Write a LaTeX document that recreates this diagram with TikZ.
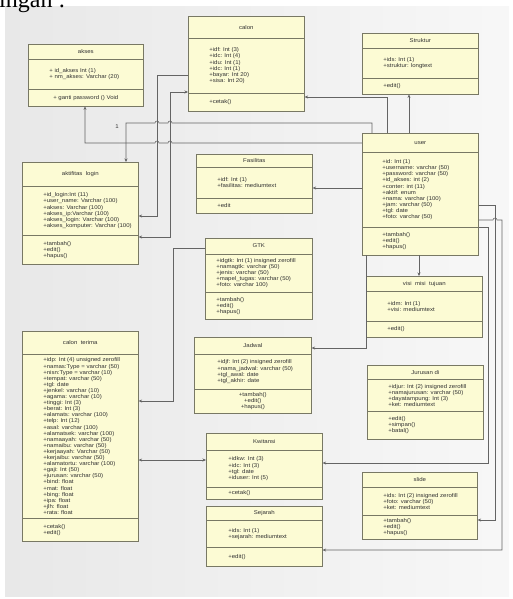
\documentclass[tikz,border=0pt]{standalone}
\usepackage{fontspec}
\setmainfont{Liberation Serif}
\newfontfamily\umlsans[FakeStretch=1.1]{Liberation Sans}
\usetikzlibrary{shapes.multipart,arrows.meta}

\definecolor{boxfill}{RGB}{252,251,212}
\definecolor{boxline}{RGB}{120,120,100}
\definecolor{wire}{RGB}{100,100,100}
\definecolor{txt}{RGB}{50,50,50}

\newcommand{\umlfont}{\umlsans\fontsize{5.5pt}{6.1pt}\selectfont\color{txt}}
% title part: width, height, text
\newcommand{\ptitle}[3]{\parbox[c][#2][c]{#1}{\umlfont\centering #3}}
% list part: width, height, indent, lines
\newcommand{\plist}[4]{\parbox[c][#2][c]{#1}{\umlfont\raggedright\leftskip=#3\relax #4}}

\tikzset{
  cls/.style={rectangle split, rectangle split parts=3, draw=boxline, fill=boxfill,
    inner sep=0pt, line width=0.6pt, anchor=north west},
  wire/.style={draw=wire, line width=0.55pt},
  >={Stealth[length=3.5pt,width=3pt]},
}

\begin{document}
\begin{tikzpicture}[x=1pt,y=-1pt]
  \useasboundingbox (0,0) rectangle (513,599);
  \shade[left color=black!9, right color=black!3] (5,7) rectangle (509,596);
  \node[anchor=base west, inner sep=0pt, font=\fontsize{24pt}{24pt}\selectfont] (hdr) at (-1,8) {ingan :};

  % classes
  \node[cls] (akses) at (28,44) {\ptitle{115pt}{14pt}{akses}
    \nodepart{two}\plist{115pt}{30pt}{21pt}{+ id\_akses Int (1)\\+ nm\_akses: Varchar (20)}
    \nodepart{three}\ptitle{115pt}{16pt}{+ ganti password () Void}};
  \node[cls] (calon) at (188,16) {\ptitle{116pt}{21pt}{calon}
    \nodepart{two}\plist{116pt}{55pt}{21pt}{+idf: Int (3)\\+idc: Int (4)\\+idu: Int (1)\\+idc: Int (1)\\+bayar: Int 20)\\+sisa: Int 20)}
    \nodepart{three}\plist{116pt}{17pt}{21pt}{+cetak()}};
  \node[cls] (struktur) at (362,33) {\ptitle{116pt}{14pt}{Struktur}
    \nodepart{two}\plist{116pt}{30pt}{21pt}{+ids: Int (1)\\+struktur: longtext}
    \nodepart{three}\plist{116pt}{15pt}{21pt}{+edit()}};
  \node[cls] (user) at (362,133) {\ptitle{116pt}{18pt}{user}
    \nodepart{two}\plist{116pt}{75pt}{20pt}{+id: Int (1)\\+username: varchar (50)\\+password: varchar (50)\\+id\_akses: int (2)\\+conter: int (11)\\+aktif: enum\\+nama: varchar (100)\\+jam: varchar (50)\\+tgl: date\\+foto: varchar (50)}
    \nodepart{three}\plist{116pt}{27pt}{20pt}{+tambah()\\+edit()\\+hapus()}};
  \node[cls] (aktifitas) at (22,162) {\ptitle{116pt}{23pt}{aktifitas~ login}
    \nodepart{two}\plist{116pt}{49pt}{21pt}{+id\_login:Int (11)\\+user\_name: Varchar (100)\\+akses: Varchar (100)\\+akses\_ip:Varchar (100)\\+akses\_login: Varchar (100)\\+akses\_komputer: Varchar (100)}
    \nodepart{three}\plist{116pt}{28pt}{21pt}{+tambah()\\+edit()\\+hapus()}};
  \node[cls] (fasilitas) at (196,154) {\ptitle{116pt}{12pt}{Fasilitas}
    \nodepart{two}\plist{116pt}{31pt}{21pt}{+idf: Int (1)\\+fasilitas: mediumtext}
    \nodepart{three}\plist{116pt}{14pt}{21pt}{+edit}};
  \node[cls] (gtk) at (205,238) {\ptitle{107pt}{15pt}{GTK}
    \nodepart{two}\plist{107pt}{38pt}{11pt}{+idgtk: Int (1) insigned zerofill\\+namagtk: varchar (50)\\+jenis: varchar (50)\\+mapel\_tugas: varchar (50)\\+foto: varchar 100)}
    \nodepart{three}\plist{107pt}{26pt}{11pt}{+tambah()\\+edit()\\+hapus()}};
  \node[cls] (visi) at (366,276) {\ptitle{116pt}{14pt}{visi~ misi~ tujuan}
    \nodepart{two}\plist{116pt}{30pt}{21pt}{+idm: Int (1)\\+visi: mediumtext}
    \nodepart{three}\plist{116pt}{15pt}{21pt}{+edit()}};
  \node[cls] (jadwal) at (194,337) {\ptitle{117pt}{16pt}{Jadwal}
    \nodepart{two}\plist{117pt}{35pt}{23pt}{+idjf: Int (2) insigned zerofill\\+nama\_jadwal: varchar (50)\\+tgl\_awal: date\\+tgl\_akhir: date}
    \nodepart{three}\ptitle{117pt}{23pt}{+tambah()\\+edit()\\+hapus()}};
  \node[cls] (jurusan) at (367,365) {\ptitle{116pt}{13pt}{Jurusan di}
    \nodepart{two}\plist{116pt}{32pt}{21pt}{+idjur: Int (2) insigned zerofill\\+namajurusan: varchar (50)\\+dayatampung: Int (3)\\+ket: mediumtext}
    \nodepart{three}\plist{116pt}{27pt}{21pt}{+edit()\\+simpan()\\+batal()}};
  \node[cls] (terima) at (22,331) {\ptitle{116pt}{22pt}{calon~ terima}
    \nodepart{two}\plist{116pt}{164pt}{21pt}{+idp: Int (4) unsigned zerofill\\+namas:Type = varchar (50)\\+nisn:Type = varchar (10)\\+tempat: varchar (50)\\+tgl: date\\+jenkel: varchar (10)\\+agama: varchar (10)\\+tinggi: Int (3)\\+berat: Int (3)\\+alamats: varchar (100)\\+telp: Int (12)\\+asal: varchar (100)\\+alamatsek: varchar (100)\\+namaayah: varchar (50)\\+namaibu: varchar (50)\\+kerjaayah: Varchar (50)\\+kerjaibu: varchar (50)\\+alamatortu: varchar (100)\\+gaji: Int (50)\\+jurusan: varchar (50)\\+bind: float\\+mat: float\\+bing: float\\+ipa: float\\+jlh: float\\+rata: float}
    \nodepart{three}\plist{116pt}{22pt}{21pt}{+cetak()\\+edit()}};
  \node[cls] (kwitansi) at (206,433) {\ptitle{116pt}{16pt}{Kwitansi}
    \nodepart{two}\plist{116pt}{37pt}{22pt}{+idkw: Int (3)\\+idc: Int (3)\\+tgl: date\\+iduser: Int (5)}
    \nodepart{three}\plist{116pt}{11pt}{22pt}{+cetak()}};
  \node[cls] (sejarah) at (206,506) {\ptitle{116pt}{13pt}{Sejarah}
    \nodepart{two}\plist{116pt}{27pt}{22pt}{+ids: Int (1)\\+sejarah: mediumtext}
    \nodepart{three}\plist{116pt}{18pt}{22pt}{+edit()}};
  \node[cls] (slide) at (362,472) {\ptitle{115pt}{14pt}{slide}
    \nodepart{two}\plist{115pt}{28pt}{21pt}{+ids: Int (2) insigned zerofill\\+foto: varchar (50)\\+ket: mediumtext}
    \nodepart{three}\plist{115pt}{23pt}{21pt}{+tambah()\\+edit()\\+hapus()}};

  % associations
  \draw[wire,->] (user.west |- 0,143) -- (172,143) arc[start angle=0,end angle=180,radius=2pt]
    -- (159,143) arc[start angle=0,end angle=180,radius=2pt] -- (85,143) -- (akses.south -| 85,0);
  \draw[wire,->] (user.north -| 372,0) -- (372,123) -- (172,123) arc[start angle=0,end angle=180,radius=2pt]
    -- (159,123) arc[start angle=0,end angle=180,radius=2pt] -- (126,123) -- (aktifitas.north -| 126,0);
  \node[inner sep=0pt, font=\umlfont] (one) at (117,127) {1};
  \draw[wire,->] (user.north -| 387,0) |- (calon.east |- 0,97);
  \draw[wire,->] (user.north -| 409,0) -- (struktur.south -| 409,0);
  \draw[wire,->] (calon.west |- 0,75) -| (157,216) -- (aktifitas.east |- 0,216);
  \draw[wire,<->] (calon.west |- 0,92) -| (170,237) -- (aktifitas.east |- 0,237);
  \draw[wire,->] (user.west |- 0,188) -- (fasilitas.east |- 0,188);
  \draw[wire,->] (gtk.west |- 0,248) -| (173,401) -- (terima.east |- 0,401);
  \draw[wire,->] (user.south -| 366,0) |- (jadwal.east |- 0,348);
  \draw[wire,->] (user.south -| 419,0) -- (visi.north -| 419,0);
  \draw[wire,<->] (terima.east |- 0,460) -- (kwitansi.west |- 0,460);
  \draw[wire,->] (user.east |- 0,227) -| (488,463) -- (kwitansi.east |- 0,463);
  \draw[wire,->] (user.east |- 0,205) -| (495,520) -- (slide.east |- 0,520);
  \draw[wire,->] (user.east |- 0,220) -- (493,220) arc[start angle=180,end angle=0,radius=2pt]
    -- (502,220) |- (sejarah.east |- 0,550);
\end{tikzpicture}
\end{document}
